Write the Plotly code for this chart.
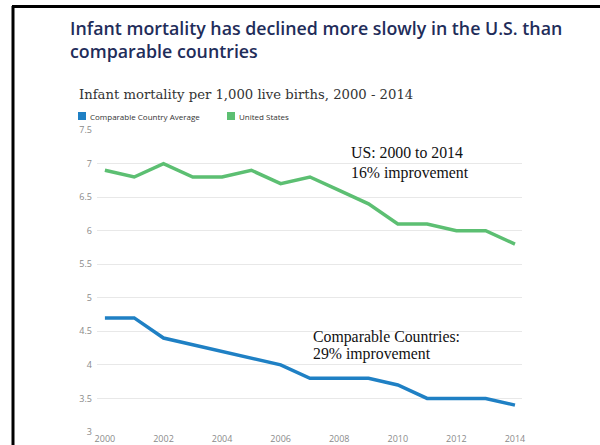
import plotly.graph_objects as go

years = list(range(2000, 2015))
us_values = [6.9, 6.8, 7.0, 6.8, 6.8, 6.9, 6.7, 6.8, 6.6, 6.4, 6.1, 6.1, 6.0, 6.0, 5.8]
comp_values = [4.7, 4.7, 4.4, 4.3, 4.2, 4.1, 4.0, 3.8, 3.8, 3.8, 3.7, 3.5, 3.5, 3.5, 3.4]
x_ticks = [2000, 2002, 2004, 2006, 2008, 2010, 2012, 2014]
y_ticks = [3, 3.5, 4, 4.5, 5, 5.5, 6, 6.5, 7, 7.5]

W, H = 600, 445
L, R, T, B = 97, 522, 130, 432

def px(x):
    return (x - L) / (R - L)

def py(y):
    return (B - y) / (B - T)

BLUE = "#1f80c4"
GREEN = "#5cbf72"

fig = go.Figure()
fig.add_trace(go.Scatter(x=years, y=comp_values, mode="lines",
                         line=dict(color=BLUE, width=3.5), name="Comparable Country Average"))
fig.add_trace(go.Scatter(x=years, y=us_values, mode="lines",
                         line=dict(color=GREEN, width=3.5), name="United States"))

shapes = [
    dict(type="line", xref="paper", yref="paper", x0=px(13), x1=px(13), y0=py(6), y1=py(H + 5),
         line=dict(color="black", width=3)),
    dict(type="line", xref="paper", yref="paper", x0=px(12), x1=px(W + 5), y0=py(6.5), y1=py(6.5),
         line=dict(color="black", width=3)),
    dict(type="rect", xref="paper", yref="paper", x0=px(78), x1=px(86), y0=py(112), y1=py(120),
         fillcolor=BLUE, line=dict(width=0)),
    dict(type="rect", xref="paper", yref="paper", x0=px(227), x1=px(235), y0=py(112), y1=py(120),
         fillcolor=GREEN, line=dict(width=0)),
]

serif = dict(family="Liberation Serif", size=15.8, color="#111111")
anns = [
    dict(text="Infant mortality has declined more slowly in the U.S. than<br>comparable countries",
         x=px(68), y=py(14), xanchor="left", yanchor="top", align="left",
         font=dict(family="Open Sans", size=17.8, color="#1f2d5a", weight=600)),
    dict(text="Infant mortality per 1,000 live births, 2000 - 2014",
         x=px(77), y=py(95), xanchor="left", yanchor="middle",
         font=dict(family="DejaVu Serif", size=13.2, color="#333333")),
    dict(text="Comparable Country Average", x=px(88), y=py(116), xanchor="left", yanchor="middle",
         font=dict(family="Open Sans", size=8, color="#333333")),
    dict(text="United States", x=px(237), y=py(116), xanchor="left", yanchor="middle",
         font=dict(family="Open Sans", size=8, color="#333333")),
    dict(text="US: 2000 to 2014", x=px(349), y=py(153), xanchor="left", yanchor="middle", font=serif),
    dict(text="16% improvement", x=px(349), y=py(173), xanchor="left", yanchor="middle", font=serif),
    dict(text="Comparable Countries:", x=px(311), y=py(337), xanchor="left", yanchor="middle", font=serif),
    dict(text="29% improvement", x=px(311), y=py(354), xanchor="left", yanchor="middle", font=serif),
]
for a in anns:
    a.update(xref="paper", yref="paper", showarrow=False)

fig.update_layout(
    width=W, height=H,
    margin=dict(l=L, r=W - R, t=T, b=H - B, pad=0),
    paper_bgcolor="white", plot_bgcolor="white",
    showlegend=False,
    shapes=shapes, annotations=anns,
    xaxis=dict(range=[1999.73, 2014.24], tickvals=x_ticks, showgrid=False, zeroline=False,
               showline=False, ticks="", tickfont=dict(family="Open Sans", size=9, color="#8a8a8a"),
               automargin=False),
    yaxis=dict(range=[3, 7.5], tickvals=y_ticks, ticktext=[f"{v:g}" for v in y_ticks],
               showgrid=True, gridcolor="#e8e8e8", gridwidth=1, zeroline=False, showline=False,
               ticks="", tickfont=dict(family="Open Sans", size=9, color="#8a8a8a"),
               automargin=False, ticklabelstandoff=4),
)

fig.write_html("out.html", config={"displayModeBar": False},
               post_script="document.body.style.margin='0';document.body.style.padding='0';")
